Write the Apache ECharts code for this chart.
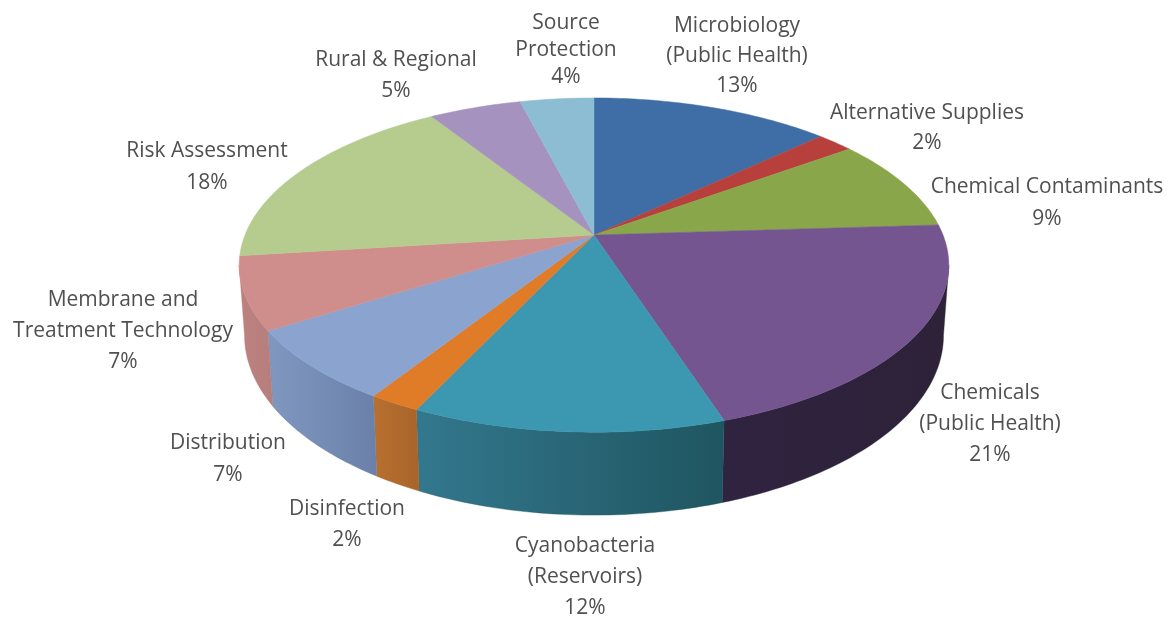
<!DOCTYPE html>
<html><head><meta charset="utf-8">
<style>html,body{margin:0;padding:0;background:#fff}#c{width:1170px;height:619px}</style>
<script src="https://cdn.jsdelivr.net/npm/echarts@6/dist/echarts.min.js"></script>
</head><body><div id="c"></div>
<script>
const categories = ['Microbiology\n(Public Health)','Alternative Supplies','Chemical Contaminants','Chemicals\n(Public Health)','Cyanobacteria\n(Reservoirs)','Disinfection','Distribution','Membrane and\nTreatment Technology','Risk Assessment','Rural & Regional','Source\nProtection'];
const shares = [13,2,9,21,12,2,7,7,18,5,4];
const topColors = ['#3f6da5','#b8403c','#8aa64a','#74558f','#3c97b0','#e07b28','#8aa3cf','#cf8d8b','#b5cc8e','#a592bf','#8dbdd2'];
const sideLeft = ['#2c4d75','#82302c','#617535','#2f2340','#33788e','#b87030','#8098c0','#bd8280','#7f905f','#746687','#638594'];
const sideRight = ['#2c4d75','#82302c','#617535','#2d2238','#1f5560','#a8642a','#6a80a8','#b57e7c','#7f905f','#746687','#638594'];
const labelX = [737,927,1047,990,585,347,228,123,207,396,566];
const labelY = [56,128,203,424,577,525,459,331,167,76,50];
const labelLine = [30,30,32,31,31,31,32,31,32,31,27];

const cx=594, cy=235, Rx=349, Ry=161.7, k=0.18, D=68, shrink=0.985;
const total = shares.reduce((a,b)=>a+b,0);
function proj(deg){const t=deg*Math.PI/180,u=Math.sin(t),v=-Math.cos(t),w=1-k*v;return {x:cx+Rx*u/w,y:cy+Ry*v/w,w};}
const visFrom=Math.acos(-k)*180/Math.PI, visTo=360-visFrom;
function arc(a,b){const p=[];const n=Math.max(2,Math.ceil((b-a)));for(let i=0;i<=n;i++)p.push(a+(b-a)*i/n);return p;}

function renderItem(params,api){
  const i=params.dataIndex, val=api.value(0);
  let acc=0; for(let j=0;j<i;j++)acc+=shares[j];
  const a=acc/total*360,b=(acc+val)/total*360;
  const children=[];
  const s=Math.max(a,visFrom),e=Math.min(b,visTo);
  if(e>s){
    const angs=arc(s,e);
    const up=angs.map(d=>{const p=proj(d);return [p.x,p.y];});
    const dn=angs.map(d=>{const p=proj(d);return [cx+(p.x-cx)*shrink,p.y+D/p.w];}).reverse();
    children.push({type:'polygon',z2:1,shape:{points:up.concat(dn)},style:{
      fill:{type:'linear',x:0,y:0,x2:1,y2:0,colorStops:[{offset:0,color:sideLeft[i]},{offset:1,color:sideRight[i]}]},
      stroke:sideRight[i],lineWidth:0.4}});
  }
  const pts=[[cx,cy]].concat(arc(a,b).map(d=>{const p=proj(d);return [p.x,p.y];}));
  children.push({type:'polygon',z2:2,shape:{points:pts},style:{fill:topColors[i],stroke:topColors[i],lineWidth:0.5}});
  children.push({type:'text',z2:3,style:{text:categories[i]+'\n'+val+'%',x:labelX[i],y:labelY[i],align:'center',verticalAlign:'middle',
    font:'21px "Open Sans", sans-serif',lineHeight:labelLine[i],fill:'#505050'}});
  return {type:'group',children};
}
const chart=echarts.init(document.getElementById('c'),null,{renderer:'canvas'});
chart.setOption({backgroundColor:'#fff',animation:false,series:[{type:'custom',coordinateSystem:'none',renderItem,data:shares.map((v,i)=>({name:categories[i],value:[v]})),silent:true}]});
</script></body></html>
